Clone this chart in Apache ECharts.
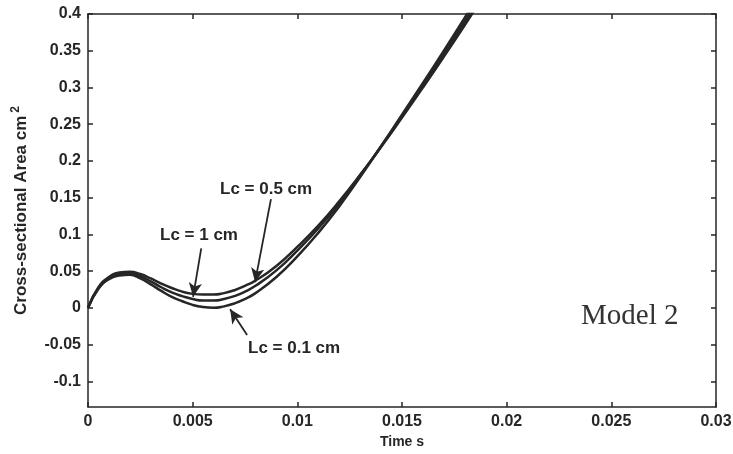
<!DOCTYPE html>
<html>
<head>
<meta charset="utf-8">
<script src="https://cdn.jsdelivr.net/npm/echarts@6/dist/echarts.min.js"></script>
<style>
  html, body { margin: 0; padding: 0; background: #fff; }
  #main { width: 733px; height: 454px; }
</style>
</head>
<body>
<div id="main"></div>
<script>
// time axis (s)
var timeS = [0, 0.0005, 0.001, 0.0015, 0.002, 0.0025, 0.003, 0.0035, 0.004, 0.0045, 0.005, 0.0055, 0.006, 0.0065, 0.007, 0.0075, 0.008, 0.009, 0.01, 0.011, 0.012, 0.013, 0.014, 0.015, 0.016, 0.017, 0.018, 0.0185];
// cross-sectional area (cm^2)
var areaLc1 = [0, 0.028, 0.042, 0.048, 0.049, 0.046, 0.040, 0.033, 0.027, 0.022, 0.019, 0.018, 0.018, 0.020, 0.024, 0.030, 0.037, 0.057, 0.083, 0.112, 0.145, 0.181, 0.219, 0.259, 0.300, 0.342, 0.385, 0.407];
var areaLc05 = [0, 0.027, 0.040, 0.046, 0.047, 0.043, 0.036, 0.028, 0.021, 0.016, 0.012, 0.010, 0.010, 0.012, 0.016, 0.022, 0.030, 0.051, 0.078, 0.108, 0.142, 0.180, 0.220, 0.261, 0.303, 0.346, 0.390, 0.412];
var areaLc01 = [0, 0.026, 0.039, 0.044, 0.045, 0.040, 0.032, 0.023, 0.015, 0.009, 0.004, 0.001, 0.000, 0.002, 0.006, 0.012, 0.020, 0.042, 0.070, 0.102, 0.138, 0.178, 0.220, 0.263, 0.306, 0.350, 0.395, 0.418];
var xTicks = [0, 0.005, 0.01, 0.015, 0.02, 0.025, 0.03];
var yTicks = [-0.1, -0.05, 0, 0.05, 0.1, 0.15, 0.2, 0.25, 0.3, 0.35, 0.4];

function pairs(xs, ys) {
  return xs.map(function (x, i) { return [x, ys[i]]; });
}

var myChart = echarts.init(document.getElementById('main'));
var ink = '#262626';
var tickFont = { color: ink, fontFamily: 'Liberation Sans', fontWeight: 'bold', fontSize: 16 };
var boxLine = { onZero: false, lineStyle: { color: ink, width: 1.5 } };
var inTick = { inside: true, length: 5, lineStyle: { color: ink, width: 1.5 } };

function lineSeries(name, data) {
  return {
    name: name,
    type: 'line',
    smooth: true,
    symbol: 'none',
    lineStyle: { color: ink, width: 2.5 },
    data: pairs(timeS, data)
  };
}

var arrowLines = {
  silent: true,
  symbol: ['none', 'arrow'],
  symbolSize: [10, 14],
  label: { show: false },
  lineStyle: { color: ink, width: 1.8, type: 'solid' },
  data: [
    [{ coord: [0.00541, 0.081] }, { coord: [0.00502, 0.015] }],
    [{ coord: [0.00874, 0.148] }, { coord: [0.00798, 0.035] }],
    [{ coord: [0.00760, -0.037] }, { coord: [0.00679, -0.002] }]
  ]
};

var option = {
  animation: false,
  backgroundColor: '#fff',
  grid: { left: 88, top: 14, right: 17, bottom: 47, containLabel: false, outerBoundsMode: 'none' },
  xAxis: [{
    type: 'value',
    min: 0, max: 0.03, interval: 0.005,
    name: 'Time s',
    nameLocation: 'middle',
    nameGap: 27,
    nameTextStyle: { color: ink, fontFamily: 'Liberation Sans', fontWeight: 'bold', fontSize: 14 },
    axisLine: boxLine,
    axisTick: inTick,
    axisLabel: Object.assign({ margin: 7, formatter: function (v) { return String(+v.toFixed(3)); } }, tickFont),
    splitLine: { show: false }
  }, {
    type: 'value',
    position: 'top',
    min: 0, max: 0.03, interval: 0.005,
    axisLine: Object.assign({ show: true }, boxLine),
    axisTick: inTick,
    axisLabel: { show: false },
    splitLine: { show: false }
  }],
  yAxis: [{
    type: 'value',
    min: -0.135, max: 0.4,
    name: 'Cross-sectional Area cm{sup|2}',
    nameLocation: 'middle',
    nameRotate: 90,
    nameGap: 56,
    nameTextStyle: {
      color: ink, fontFamily: 'Liberation Sans', fontWeight: 'bold', fontSize: 17,
      rich: { sup: { color: ink, fontFamily: 'Liberation Sans', fontWeight: 'bold', fontSize: 12, verticalAlign: 'top', padding: [0, 0, 10, 3] } }
    },
    axisLine: boxLine,
    axisTick: Object.assign({ customValues: yTicks }, inTick),
    axisLabel: Object.assign({ margin: 7, customValues: yTicks, formatter: function (v) { return String(+v.toFixed(3)); } }, tickFont),
    splitLine: { show: false }
  }, {
    type: 'value',
    position: 'right',
    min: -0.135, max: 0.4,
    axisLine: Object.assign({ show: true }, boxLine),
    axisTick: Object.assign({ customValues: yTicks }, inTick),
    axisLabel: { show: false },
    splitLine: { show: false }
  }],
  graphic: [
    { type: 'text', left: 160, top: 227, style: { text: 'Lc = 1 cm', fill: ink, font: 'bold 17px "Liberation Sans"' } },
    { type: 'text', left: 220, top: 181, style: { text: 'Lc = 0.5 cm', fill: ink, font: 'bold 17px "Liberation Sans"' } },
    { type: 'text', left: 248, top: 340, style: { text: 'Lc = 0.1 cm', fill: ink, font: 'bold 17px "Liberation Sans"' } },
    { type: 'text', left: 581, top: 302, style: { text: 'Model 2', fill: '#333', font: '29px "Liberation Serif"' } }
  ],
  series: [
    Object.assign(lineSeries('Lc = 1 cm', areaLc1), { markLine: arrowLines }),
    lineSeries('Lc = 0.5 cm', areaLc05),
    lineSeries('Lc = 0.1 cm', areaLc01)
  ]
};

myChart.setOption(option);
</script>
</body>
</html>
